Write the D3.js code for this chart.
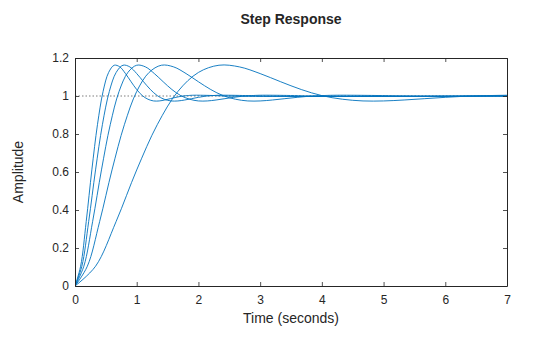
<!DOCTYPE html>
<html><head><meta charset="utf-8">
<script src="https://cdn.jsdelivr.net/npm/d3@7"></script>
<style>body{margin:0;background:#fff}svg{display:block}text{font-family:"Liberation Sans",Arial,Helvetica,sans-serif;fill:#262626}</style>
</head><body><svg id="c" width="560" height="337"></svg>
<script>
// Step responses (time in seconds, amplitude)
const time1 = [0,0.091,0.182,0.273,0.364,0.455,0.545,0.636,0.727,0.818,0.909,1.000,1.091,1.182,1.273,1.364,1.455,1.545,1.636,1.727,1.818,1.909,2.182,2.545,7.0];
const amp1  = [0,0.104,0.340,0.611,0.849,1.024,1.124,1.162,1.153,1.118,1.075,1.034,1.002,0.983,0.974,0.974,0.979,0.986,0.993,0.999,1.002,1.004,1.003,0.999,1.0];
const time2 = [0,0.111,0.222,0.333,0.444,0.556,0.667,0.778,0.889,1.000,1.111,1.222,1.333,1.444,1.556,1.667,1.778,1.889,2.000,2.111,2.222,2.333,2.667,3.111,7.0];
const amp2  = [0,0.104,0.340,0.611,0.849,1.024,1.124,1.162,1.153,1.118,1.075,1.034,1.002,0.983,0.974,0.974,0.979,0.986,0.993,0.999,1.002,1.004,1.003,0.999,1.0];
const time3 = [0,0.143,0.286,0.429,0.571,0.714,0.857,1.000,1.143,1.286,1.429,1.571,1.714,1.857,2.000,2.143,2.286,2.429,2.571,2.714,2.857,3.000,3.429,4.000,7.0];
const amp3  = [0,0.104,0.340,0.611,0.849,1.024,1.124,1.162,1.153,1.118,1.075,1.034,1.002,0.983,0.974,0.974,0.979,0.986,0.993,0.999,1.002,1.004,1.003,0.999,1.0];
const time4 = [0,0.2,0.4,0.6,0.8,1.0,1.2,1.4,1.6,1.8,2.0,2.2,2.4,2.6,2.8,3.0,3.2,3.4,3.6,3.8,4.0,4.2,4.8,5.6,7.0];
const amp4  = [0,0.104,0.340,0.611,0.849,1.024,1.124,1.162,1.153,1.118,1.075,1.034,1.002,0.983,0.974,0.974,0.979,0.986,0.993,0.999,1.002,1.004,1.003,0.999,1.0];
const time5 = [0,0.333,0.667,1.000,1.333,1.667,2.000,2.333,2.667,3.000,3.333,3.667,4.000,4.333,4.667,5.000,5.333,5.667,6.000,6.333,6.667,7.000];
const amp5  = [0,0.104,0.340,0.611,0.849,1.024,1.124,1.162,1.153,1.118,1.075,1.034,1.002,0.983,0.974,0.974,0.979,0.986,0.993,0.999,1.002,1.004];
const series = [[time1,amp1],[time2,amp2],[time3,amp3],[time4,amp4],[time5,amp5]];
const xTicks = [0,1,2,3,4,5,6,7];
const yTicks = [0,0.2,0.4,0.6,0.8,1,1.2];
const steadyState = 1;

const svg = d3.select("#c");
const L=75, R=507, T=58, B=286;
const x = d3.scaleLinear().domain([0,7]).range([L,R]);
const y = d3.scaleLinear().domain([0,1.2]).range([B,T]);
const axisCol = "#262626";

svg.append("clipPath").attr("id","pc").append("rect")
  .attr("x",L).attr("y",T).attr("width",R-L).attr("height",B-T);

// steady-state reference line
svg.append("line").attr("x1",x(0)).attr("x2",x(7)).attr("y1",y(steadyState)).attr("y2",y(steadyState))
  .attr("stroke",axisCol).attr("stroke-width",0.6).attr("stroke-dasharray","1.5,2");

const line = d3.line().x(d=>x(d[0])).y(d=>y(d[1])).curve(d3.curveCatmullRom.alpha(0.5));
const g = svg.append("g").attr("clip-path","url(#pc)");
series.forEach(([t,a])=>{
  g.append("path").datum(t.map((v,i)=>[v,a[i]])).attr("d",line)
   .attr("fill","none").attr("stroke","#0072BD").attr("stroke-width",0.9);
});

// axes
const fmt = d=>String(d);
const xb = svg.append("g").attr("transform",`translate(0,${B})`)
  .call(d3.axisBottom(x).tickValues(xTicks).tickFormat(fmt).tickSizeInner(-4).tickSizeOuter(0).tickPadding(9.5));
const xt = svg.append("g").attr("transform",`translate(0,${T})`)
  .call(d3.axisTop(x).tickValues(xTicks).tickFormat("").tickSizeInner(-4).tickSizeOuter(0));
const yl = svg.append("g").attr("transform",`translate(${L},0)`)
  .call(d3.axisLeft(y).tickValues(yTicks).tickFormat(fmt).tickSizeInner(-4).tickSizeOuter(0).tickPadding(6));
const yr = svg.append("g").attr("transform",`translate(${R},0)`)
  .call(d3.axisRight(y).tickValues(yTicks).tickFormat("").tickSizeInner(-4).tickSizeOuter(0));
[xb,xt,yl,yr].forEach(a=>{
  a.select(".domain").attr("stroke",axisCol).attr("stroke-width",1);
  a.selectAll(".tick line").attr("stroke",axisCol).attr("stroke-width",0.8);
  a.selectAll(".tick text").attr("font-size",12).attr("fill",axisCol)
   .style("font-family",'"Liberation Sans",Arial,sans-serif');
});

svg.append("text").attr("x",(L+R)/2).attr("y",24).attr("text-anchor","middle")
  .attr("font-size",14).attr("font-weight","bold").text("Step Response");
svg.append("text").attr("x",(L+R)/2).attr("y",322.5).attr("text-anchor","middle")
  .attr("font-size",14).text("Time (seconds)");
svg.append("text").attr("transform",`translate(22.5,${(T+B)/2}) rotate(-90)`).attr("text-anchor","middle")
  .attr("font-size",14).text("Amplitude");
</script></body></html>
